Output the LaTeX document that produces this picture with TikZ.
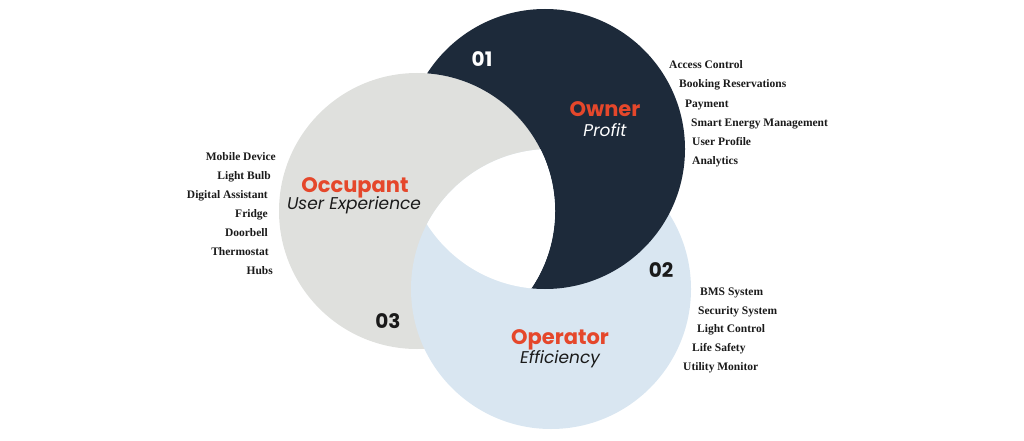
\documentclass[tikz,border=0pt]{standalone}
\usepackage{fontspec}
\setmainfont{Liberation Serif}
\newfontfamily\popfont{Poppins}
\definecolor{navyc}{HTML}{1D2A3A}
\definecolor{grayc}{HTML}{DFE0DD}
\definecolor{bluec}{HTML}{D9E6F1}
\definecolor{orangec}{HTML}{E5472B}
\definecolor{inkc}{HTML}{1A1A1A}
\tikzset{
  title/.style={anchor=base, inner sep=0pt, text=orangec, font=\popfont\bfseries\fontsize{21}{24}\selectfont},
  subtitle/.style={anchor=base, inner sep=0pt, font=\popfont\itshape\fontsize{17}{20}\selectfont},
  numlabel/.style={anchor=base, inner sep=0pt, font=\popfont\bfseries\fontsize{20}{24}\selectfont},
  itemL/.style={anchor=base west, inner sep=0pt, text=inkc, font=\bfseries\fontsize{11.5}{14}\selectfont},
  itemR/.style={anchor=base east, inner sep=0pt, text=inkc, font=\bfseries\fontsize{11.5}{14}\selectfont}
}
\begin{document}
\begin{tikzpicture}[x=1pt,y=-1pt]
\useasboundingbox (0,0) rectangle (1024,441);
% circles: gray, then blue over gray, then navy (minus gray) over blue
\fill[grayc] (417,211) circle[radius=138pt];
\fill[bluec] (551,289) circle[radius=140pt];
\begin{scope}
  \clip (545,149) circle[radius=140pt];
  \fill[navyc, even odd rule] (0,0) rectangle (1024,441) (417,211) circle[radius=138pt];
\end{scope}
% white centre: common part of all three circles
\begin{scope}
  \clip (551,289) circle[radius=140pt];
  \clip (545,149) circle[radius=140pt];
  \fill[white] (417,211) circle[radius=138pt];
\end{scope}
% numbers
\node[numlabel, text=white] (n01) at (482,67) {01};
\node[numlabel, text=inkc] (n02) at (661,277) {02};
\node[numlabel, text=inkc] (n03) at (388,328) {03};
% titles
\node[title] (owner) at (605,117) {Owner};
\node[subtitle, text=white] (profit) at (605,136) {Profit};
\node[title] (occupant) at (355,192) {Occupant};
\node[subtitle, text=inkc] (ux) at (354,209) {User Experience};
\node[title] (operator) at (560,344) {Operator};
\node[subtitle, text=inkc] (eff) at (560,363) {Efficiency};
% owner list
\node[itemL] (o1) at (669,69) {Access Control};
\node[itemL] (o2) at (679,88) {Booking Reservations};
\node[itemL] (o3) at (685,107) {Payment};
\node[itemL] (o4) at (691,126) {Smart Energy Management};
\node[itemL] (o5) at (692,145) {User Profile};
\node[itemL] (o6) at (692,164) {Analytics};
% occupant list
\node[itemR] (c1) at (276,160) {Mobile Device};
\node[itemR] (c2) at (271,179) {Light Bulb};
\node[itemR] (c3) at (268,198) {Digital Assistant};
\node[itemR] (c4) at (268,217) {Fridge};
\node[itemR] (c5) at (268,236) {Doorbell};
\node[itemR] (c6) at (269,255) {Thermostat};
\node[itemR] (c7) at (273,274) {Hubs};
% operator list
\node[itemL] (p1) at (700,295) {BMS System};
\node[itemL] (p2) at (698,314) {Security System};
\node[itemL] (p3) at (697,332) {Light Control};
\node[itemL] (p4) at (692,351) {Life Safety};
\node[itemL] (p5) at (683,370) {Utility Monitor};
\end{tikzpicture}
\end{document}
